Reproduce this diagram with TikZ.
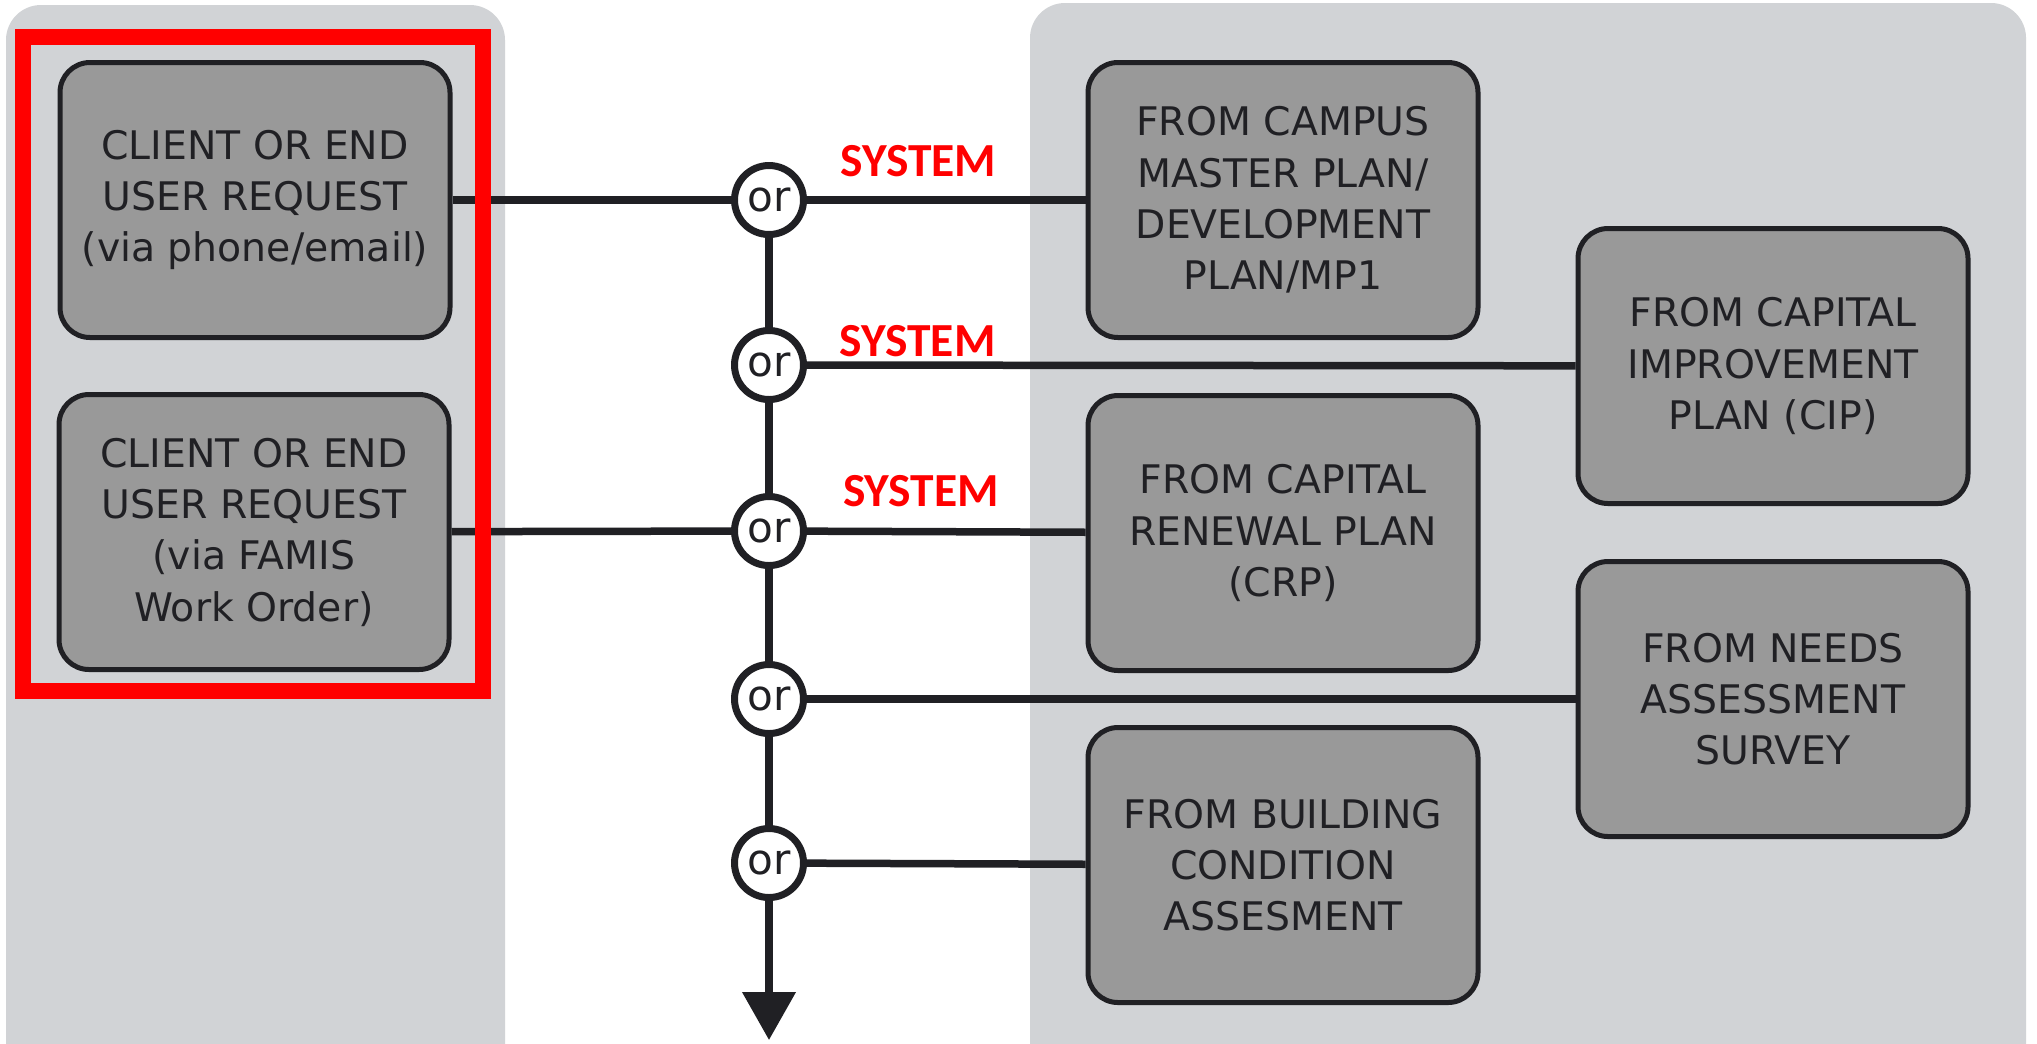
\documentclass[tikz,border=0pt]{standalone}
\usepackage{fontspec}
\setmainfont{DejaVu Sans}
\newfontfamily\sysfont{Carlito}
\usetikzlibrary{arrows.meta}
\definecolor{panelgray}{RGB}{209,211,214}
\definecolor{boxgray}{RGB}{153,153,153}
\definecolor{inkgray}{RGB}{32,32,36}
\definecolor{sysred}{RGB}{255,0,0}

\begin{document}
\begin{tikzpicture}[x=0.1mm, y=-0.1mm,
 srcbox/.style={draw=inkgray, line width=0.5mm, fill=boxgray, rounded corners=3mm, minimum width=39mm, minimum height=27.5mm, align=center, text=inkgray, font=\fontsize{11.2}{14.6}\selectfont},
 orgate/.style={circle, draw=inkgray, fill=white, line width=0.7mm, minimum size=6.9mm, inner sep=0, text=inkgray, font=\fontsize{12}{13}\selectfont},
 wire/.style={inkgray, line width=0.75mm},
 syslabel/.style={text=sysred, font=\sysfont\bfseries\fontsize{13.5}{16}\selectfont, inner sep=0, above}]
\useasboundingbox (0,0) rectangle (2037,1043);
\fill[white] (0,0) rectangle (2037,1043);
\fill[panelgray, rounded corners=3.5mm] (6,1100) -- (6,5) -- (505,5) -- (505,1100) -- cycle;
\fill[panelgray, rounded corners=3.5mm] (1030,1100) -- (1030,3) -- (2026,3) -- (2026,1100) -- cycle;
\node[srcbox] (req1) at (255,200) {CLIENT OR END\\USER REQUEST\\(via phone/email)};
\node[srcbox] (req2) at (254,532) {CLIENT OR END\\USER REQUEST\\(via FAMIS\\Work Order)};
\node[srcbox] (cmp) at (1283,200) {FROM CAMPUS\\MASTER PLAN/\\DEVELOPMENT\\PLAN/MP1};
\node[srcbox] (cip) at (1773,366) {FROM CAPITAL\\IMPROVEMENT\\PLAN (CIP)};
\node[srcbox] (crp) at (1283,533) {FROM CAPITAL\\RENEWAL PLAN\\(CRP)};
\node[srcbox] (nas) at (1773,699) {FROM NEEDS\\ASSESSMENT\\SURVEY};
\node[srcbox] (bca) at (1283,865) {FROM BUILDING\\CONDITION\\ASSESMENT};
\foreach \n/\y in {1/200,2/365,3/531,4/699,5/863}
 \node[orgate] (or\n) at (769,\y) {or};
\foreach \a/\b in {1/2,2/3,3/4,4/5}
 \draw[wire] (or\a) -- (or\b);
\coordinate (flowend) at (769,1040);
\draw[wire, -{Triangle[width=5.2mm,length=4.8mm]}] (or5) -- (flowend);
\draw[wire] (req1) -- (or1);
\draw[wire] (or1) -- (cmp) node[syslabel, pos=.4, yshift=1.9mm] {SYSTEM};
\draw[wire] (or2) -- (cip) node[syslabel, pos=.144, yshift=.5mm] {SYSTEM};
\draw[wire] (req2) -- (or3);
\draw[wire] (or3) -- (crp) node[syslabel, pos=.41, yshift=2.1mm] {SYSTEM};
\draw[wire] (or4) -- (nas);
\draw[wire] (or5) -- (bca);
\draw[sysred, line width=1.6mm] (23,37) rectangle (483,691);
\end{tikzpicture}
\end{document}
